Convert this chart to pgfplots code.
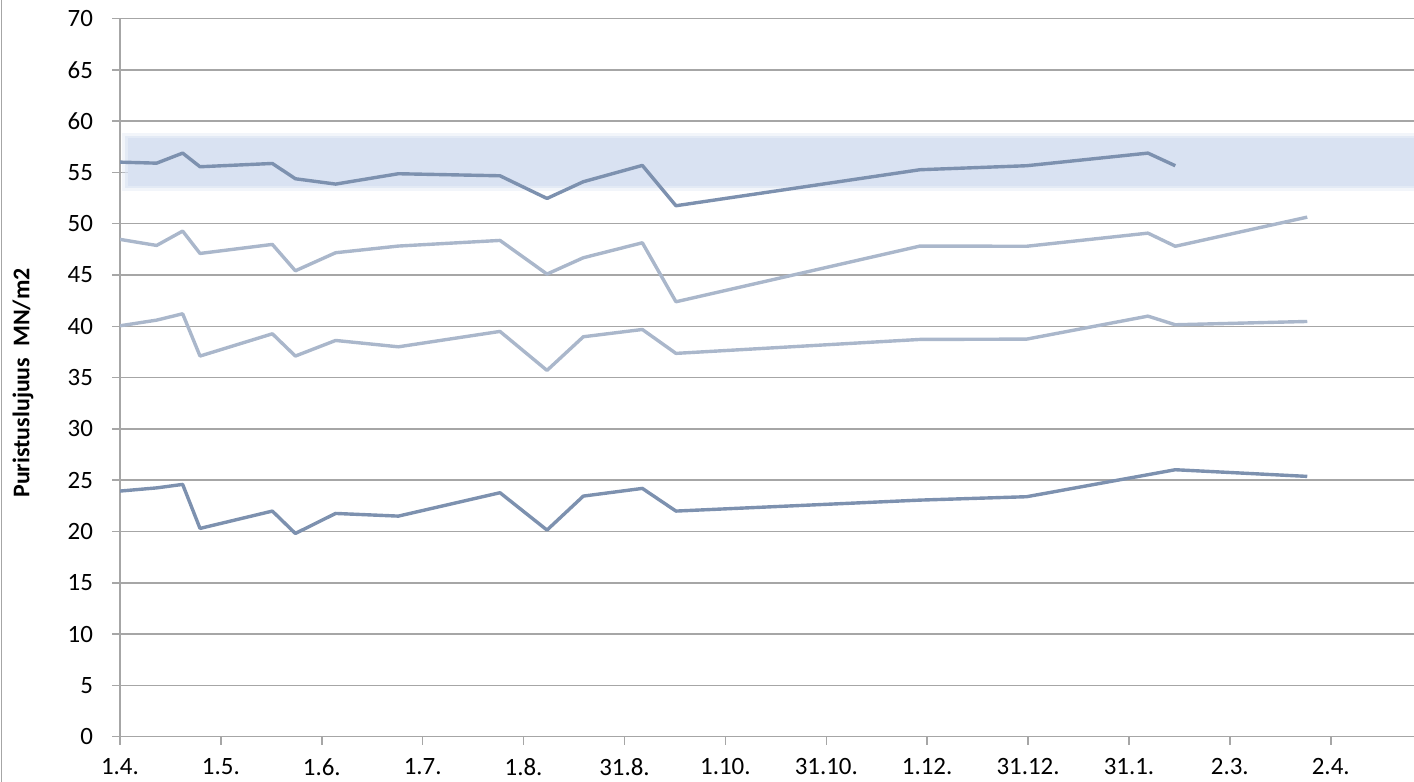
\documentclass[border=0pt]{standalone}
\usepackage{pgfplots}
\pgfplotsset{compat=1.18}
\usepackage{fontspec}
\setmainfont{Carlito}
\definecolor{darkl}{RGB}{125,145,175}
\definecolor{lightl}{RGB}{170,183,203}
\definecolor{bandc}{RGB}{217,226,242}
\definecolor{gridc}{RGB}{166,166,166}
\begin{document}
\begin{tikzpicture}
\begin{axis}[
  at={(0,0)}, anchor=south west,
  scale only axis, width=647bp, height=359.1bp,
  xmin=0, xmax=12.825, ymin=0, ymax=70,
  xtick={0,...,12},
  xticklabels={1.4.,1.5.,1.6.,1.7.,1.8.,31.8.,1.10.,31.10.,1.12.,31.12.,31.1.,2.3.,2.4.},
  ytick={0,5,...,70},
  axis x line*=bottom, axis y line*=left,
  ymajorgrids, grid style={gridc, line width=0.75bp},
  tick align=outside, major tick length=4bp,
  tick style={gridc, line width=0.75bp},
  axis line style={gridc, line width=0.75bp},
  tick label style={font=\fontsize{12.5}{15}\selectfont, black},
  xticklabel style={yshift=-3.5bp},
  yticklabel style={xshift=-6bp},
  /pgf/number format/assume math mode=true,
  ylabel={Puristuslujuus\ \ MN/m2},
  ylabel style={font=\fontsize{12}{14}\selectfont\bfseries, at={(rel axis cs:-0.075,0.4925)}, anchor=center},
]
\addplot[draw=none, fill=bandc, fill opacity=0.35] coordinates {(0.02,53.2) (12.825,53.2) (12.825,58.8) (0.02,58.8)} -- cycle;
\addplot[draw=none, fill=bandc, fill opacity=0.6] coordinates {(0.05,53.45) (12.825,53.45) (12.825,58.55) (0.05,58.55)} -- cycle;
\addplot[draw=none, fill=bandc] coordinates {(0.08,53.65) (12.825,53.65) (12.825,58.35) (0.08,58.35)} -- cycle;

\addplot[darkl, line width=1.7bp, line join=round] coordinates {
(0,56.0)(0.363,55.9)(0.621,56.88)(0.793,55.55)(1.510,55.87)(1.738,54.38)(2.137,53.86)(2.759,54.87)(3.766,54.67)(4.232,52.46)(4.592,54.09)(5.177,55.68)(5.510,51.75)(7.929,55.26)(8.986,55.65)(10.188,56.88)(10.459,55.65)};
\addplot[lightl, line width=1.7bp, line join=round] coordinates {
(0,48.47)(0.363,47.88)(0.621,49.28)(0.793,47.10)(1.510,47.98)(1.738,45.41)(2.137,47.17)(2.759,47.82)(3.766,48.37)(4.232,45.09)(4.592,46.68)(5.177,48.14)(5.510,42.39)(7.929,47.82)(8.986,47.8)(10.188,49.08)(10.459,47.8)(11.767,50.64)};
\addplot[lightl, line width=1.7bp, line join=round] coordinates {
(0,40.05)(0.363,40.6)(0.621,41.22)(0.793,37.10)(1.510,39.27)(1.738,37.10)(2.137,38.62)(2.759,38.0)(3.766,39.50)(4.232,35.70)(4.592,38.98)(5.177,39.69)(5.510,37.36)(7.929,38.72)(8.986,38.75)(10.188,40.99)(10.459,40.15)(11.767,40.47)};
\addplot[darkl, line width=1.7bp, line join=round] coordinates {
(0,23.94)(0.363,24.25)(0.621,24.59)(0.793,20.30)(1.510,21.99)(1.738,19.81)(2.137,21.76)(2.759,21.50)(3.766,23.78)(4.232,20.14)(4.592,23.45)(5.177,24.20)(5.510,21.99)(7.929,23.06)(8.986,23.39)(10.459,26.02)(11.767,25.37)};
\end{axis}
\draw[gridc, line width=0.75bp] (-59.2bp,-22.65bp) -- (-59.2bp,368.35bp);
\pgfresetboundingbox
\useasboundingbox (-60bp,-22.65bp) rectangle (647bp,368.35bp);
\end{tikzpicture}
\end{document}
